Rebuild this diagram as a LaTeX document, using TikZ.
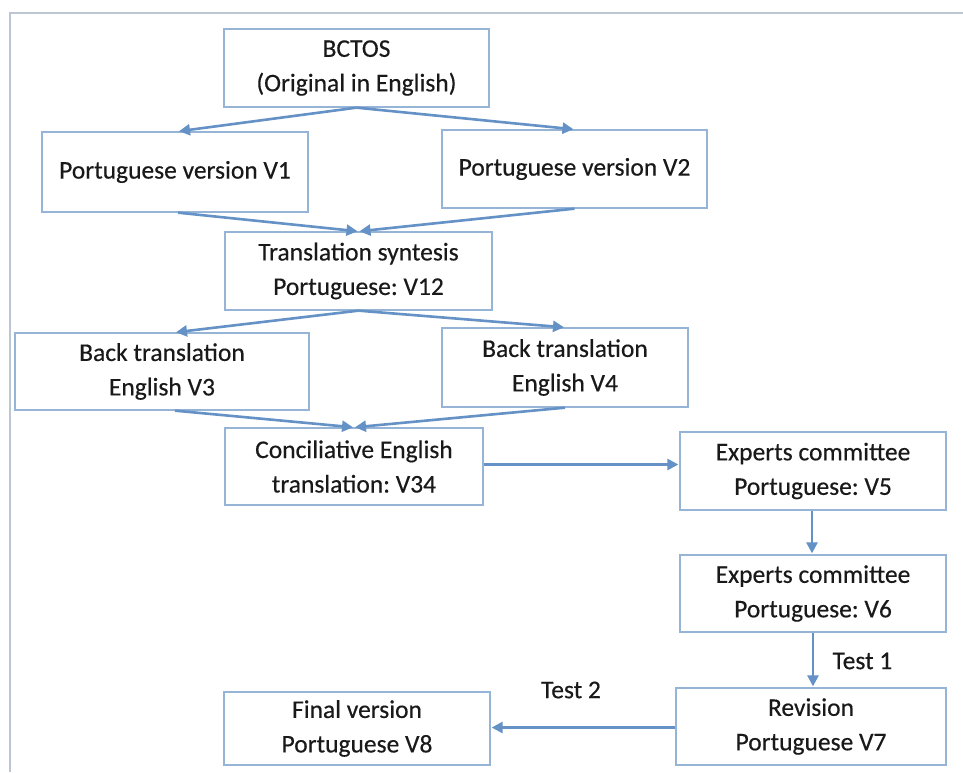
\documentclass[tikz,border=0pt]{standalone}
\usepackage{fontspec}
\setmainfont{Carlito}[FakeBold=0.35]
\usetikzlibrary{arrows.meta}
\definecolor{boxline}{RGB}{150,180,214}
\definecolor{arrowc}{RGB}{100,145,198}
\definecolor{framec}{RGB}{188,198,210}
\definecolor{txt}{RGB}{25,25,25}
\tikzset{
  stepbox/.style={draw=boxline, line width=1.3pt, fill=white, inner sep=0pt,
    align=center, text=txt, font=\fontsize{25.5}{34.5}\selectfont\frenchspacing},
  flow/.style={draw=arrowc, line width=2.6pt, -{Triangle[length=11pt,width=11pt]}, shorten >=1pt},
  lbl/.style={text=txt, font=\fontsize{25.5}{32}\selectfont}
}
\begin{document}
\begin{tikzpicture}[x=1pt,y=-1pt]
\useasboundingbox (0,0) rectangle (963,772);
\fill[white] (0,0) rectangle (963,772);
\draw[framec, line width=1.5pt] (963,13) -- (10,13) -- (10,772);

\node[stepbox, minimum width=265pt, minimum height=78pt] (bctos) at (356.5,68) {BCTOS\\(Original in English)};
\node[stepbox, minimum width=266pt, minimum height=80pt] (v1) at (175,172) {Portuguese version V1};
\node[stepbox, minimum width=265pt, minimum height=78pt] (v2) at (574.5,169) {Portuguese version V2};
\node[stepbox, minimum width=267pt, minimum height=78pt] (v12) at (358.5,271) {Translation syntesis\\Portuguese: V12};
\node[stepbox, minimum width=294pt, minimum height=77pt] (v3) at (162,371.5) {Back translation\\English V3};
\node[stepbox, minimum width=246pt, minimum height=79pt] (v4) at (565,367.5) {Back translation\\English V4};
\node[stepbox, minimum width=258pt, minimum height=77pt] (v34) at (354,466.5) {Conciliative English\\translation: V34};
\node[stepbox, minimum width=266pt, minimum height=78pt] (v5) at (813,471) {Experts committee\\Portuguese: V5};
\node[stepbox, minimum width=266pt, minimum height=77pt] (v6) at (813,593.5) {Experts committee\\Portuguese: V6};
\node[stepbox, minimum width=270pt, minimum height=77pt] (v7) at (811,726.5) {Revision\\Portuguese V7};
\node[stepbox, minimum width=266pt, minimum height=73pt] (v8) at (357,728.5) {Final version\\Portuguese V8};

\draw[flow] (bctos.south) -- ([xshift=3pt]v1.north);
\draw[flow] (bctos.south) -- (v2.north);
\draw[flow] ([xshift=3pt]v1.south) -- (v12.north);
\draw[flow] (v2.south) -- (v12.north);
\draw[flow] (v12.south) -- ([xshift=13pt]v3.north);
\draw[flow] (v12.south) -- (v4.north);
\draw[flow] ([xshift=13pt]v3.south) -- (v34.north);
\draw[flow] (v4.south) -- (v34.north);
\draw[flow] ([yshift=2pt]v34.east) -- ([yshift=2pt]v34.east -| v5.west);
\draw[flow] ([xshift=-1pt]v5.south) -- ([xshift=-1pt]v6.north);
\draw[flow] (v6.south) -- (v6.south |- v7.north);
\draw[flow] ([yshift=-1pt]v7.west) -- ([yshift=-1pt]v7.west -| v8.east);

\node[lbl, anchor=west] (t1) at (829,661) {Test 1};
\node[lbl] (t2) at (571,690) {Test 2};
\end{tikzpicture}
\end{document}
